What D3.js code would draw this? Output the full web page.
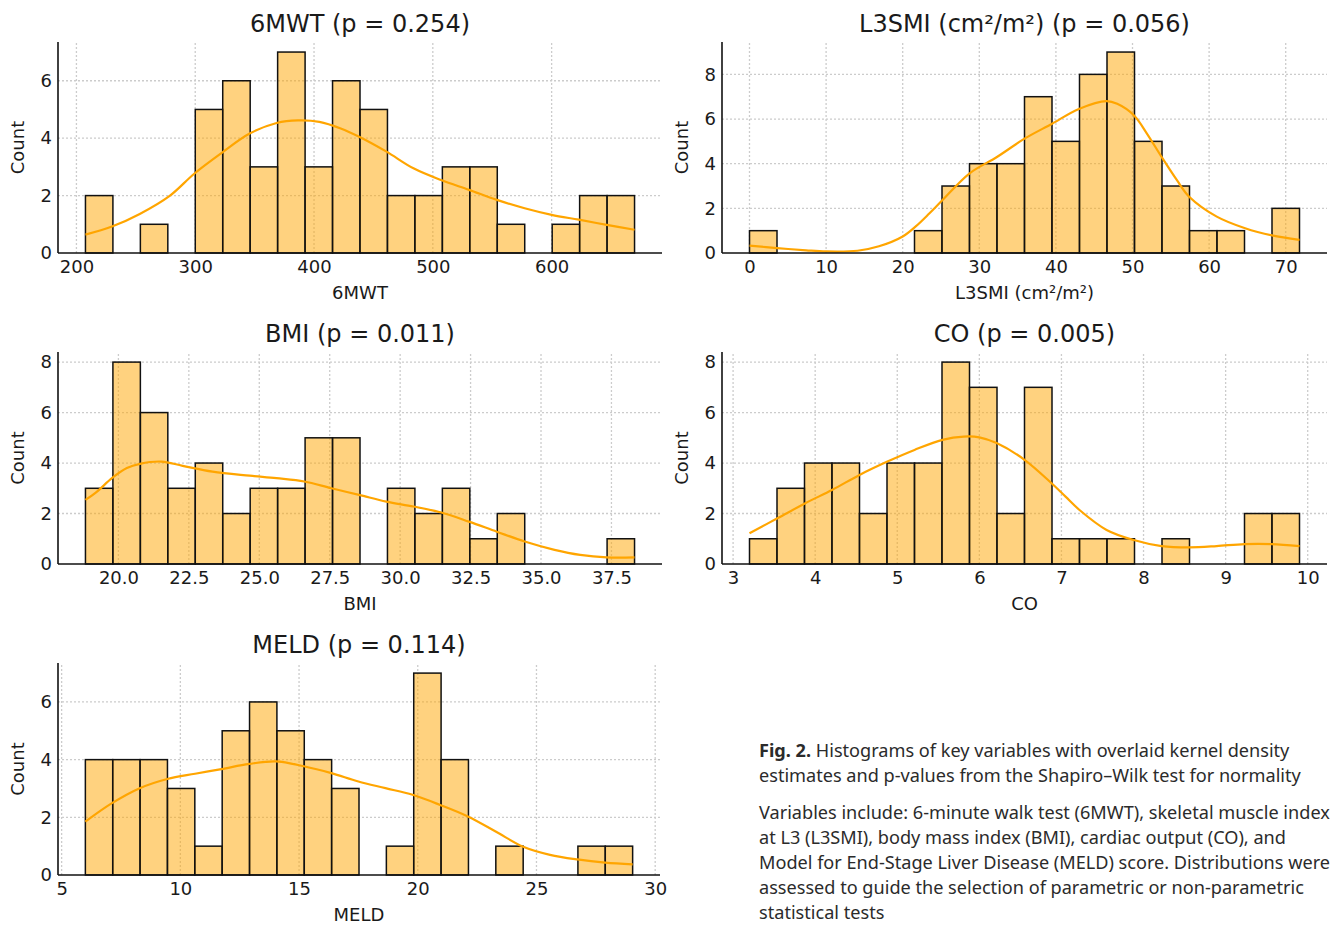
<!DOCTYPE html>
<html>
<head>
<meta charset="utf-8">
<script src="https://cdn.jsdelivr.net/npm/d3@7"></script>
<style>
  body { margin: 0; background: #fff; }
  svg text { font-family: "DejaVu Sans", sans-serif; fill: #1a1a1a; }
  .grid line { stroke: #cccccc; stroke-width: 1.3; stroke-dasharray: 2,2; }
  .axis text { font-size: 18px; }
  .caption text { font-family: "Noto Sans", sans-serif; font-size: 18px; fill: #2b2b2b; }
</style>
</head>
<body>
<svg id="chart" width="1331" height="926"></svg>
<script>
// ---- values ----
// 6MWT
var mwtCounts = [2,0,1,0,5,6,3,7,3,6,5,2,2,3,3,1,0,1,2,2];
var mwtRange = [207.6, 669.8];
var mwtKdeX = [207.6,229.9,253.3,278.5,299.4,322.4,345.8,368.5,386.5,404.5,422.5,438,461,483.7,507,530.5,553.9,577.3,600,623,646.4,669.8];
var mwtKdeY = [0.64,0.92,1.36,1.99,2.77,3.49,4.16,4.53,4.62,4.57,4.34,4.05,3.53,2.95,2.54,2.2,1.85,1.56,1.33,1.16,0.98,0.81];
var mwtXTicks = [200,300,400,500,600];
var mwtYTicks = [0,2,4,6];

// L3SMI
var smiCounts = [1,0,0,0,0,0,1,3,4,4,7,5,8,9,5,3,1,1,0,2];
var smiRange = [0, 71.8];
var smiKdeX = [0,3.6,7.4,10,14.1,16.9,20,21.7,23.5,25.2,28.7,32.3,35.9,39.5,43.0,46.6,48.0,50.2,51.9,53.8,55.8,57.4,61.0,64.7,68.2,71.8];
var smiKdeY = [0.33,0.22,0.12,0.07,0.1,0.3,0.74,1.19,1.78,2.37,3.56,4.3,5.12,5.79,6.45,6.8,6.68,6.16,5.34,4.3,3.26,2.52,1.63,1.11,0.79,0.59];
var smiXTicks = [0,10,20,30,40,50,60,70];
var smiYTicks = [0,2,4,6,8];

// BMI
var bmiCounts = [3,8,6,3,4,2,3,3,5,5,0,3,2,3,1,2,0,0,0,1];
var bmiRange = [18.83, 38.32];
var bmiKdeX = [18.83,19.24,19.77,20.3,20.76,21.52,22.28,23.34,24.66,25.61,26.6,27.56,28.54,29.51,30.47,31.46,32.44,33.43,34.42,35.48,36.39,37.33,38.32];
var bmiKdeY = [2.54,2.87,3.4,3.8,3.97,4.06,3.89,3.66,3.5,3.4,3.27,3.0,2.74,2.47,2.28,2.04,1.68,1.28,0.89,0.56,0.36,0.26,0.26];
var bmiXTicks = [20,22.5,25,27.5,30,32.5,35,37.5];
var bmiYTicks = [0,2,4,6,8];

// CO
var coCounts = [1,3,4,4,2,4,4,8,7,2,7,1,1,1,0,1,0,0,2,2];
var coRange = [3.20, 9.90];
var coKdeX = [3.20,3.54,3.88,4.21,4.54,4.88,5.21,5.55,5.81,6.0,6.21,6.55,6.88,7.05,7.22,7.55,7.88,8.22,8.56,8.89,9.23,9.56,9.90];
var coKdeY = [1.22,1.81,2.41,2.94,3.53,4.06,4.52,4.92,5.05,5.02,4.79,4.13,3.2,2.67,2.14,1.35,0.95,0.71,0.66,0.71,0.79,0.79,0.71];
var coXTicks = [3,4,5,6,7,8,9,10];
var coYTicks = [0,2,4,6,8];

// MELD
var meldCounts = [4,4,4,3,1,5,6,5,4,3,0,1,7,4,0,1,0,0,1,1];
var meldRange = [6.0, 29.05];
var meldKdeX = [6.0,7.12,8.29,9.45,10.62,11.73,12.9,14.03,15.2,16.36,17.5,18.64,19.78,20.94,22.11,23.28,24.44,25.57,26.72,27.89,29.05];
var meldKdeY = [1.85,2.49,3.01,3.33,3.51,3.67,3.85,3.94,3.77,3.53,3.24,3.01,2.78,2.43,2.03,1.51,0.98,0.7,0.54,0.43,0.37];
var meldXTicks = [5,10,15,20,25,30];
var meldYTicks = [0,2,4,6];

var captionLines = [
  ["Fig. 2.", " Histograms of key variables with overlaid kernel density"],
  ["", "estimates and p-values from the Shapiro\u2013Wilk test for normality"],
  ["", "Variables include: 6-minute walk test (6MWT), skeletal muscle index"],
  ["", "at L3 (L3SMI), body mass index (BMI), cardiac output (CO), and"],
  ["", "Model for End-Stage Liver Disease (MELD) score. Distributions were"],
  ["", "assessed to guide the selection of parametric or non-parametric"],
  ["", "statistical tests"]
];
var captionBaselines = [757, 782, 819, 844, 869, 894, 919];

var svg = d3.select("#chart");

function drawPanel(p) {
  var pad = 0.05 * (p.range[1] - p.range[0]);
  var x = d3.scaleLinear()
            .domain([p.range[0] - pad, p.range[1] + pad])
            .range([p.left, p.right]);
  var y = d3.scaleLinear()
            .domain([0, d3.max(p.counts) * 1.05])
            .range([p.bottom, p.top]);

  var g = svg.append("g");

  // dotted grid
  var grid = g.append("g").attr("class", "grid");
  grid.selectAll(".gx").data(p.xTicks).enter().append("line")
      .attr("x1", function(d) { return x(d); })
      .attr("x2", function(d) { return x(d); })
      .attr("y1", p.bottom).attr("y2", p.top);
  grid.selectAll(".gy").data(p.yTicks.slice(1)).enter().append("line")
      .attr("x1", p.left).attr("x2", p.right)
      .attr("y1", function(d) { return y(d); })
      .attr("y2", function(d) { return y(d); });

  // histogram bars (20 equal bins over the data range)
  var w = (p.range[1] - p.range[0]) / p.counts.length;
  var bins = p.counts.map(function(c, i) {
    return { x0: p.range[0] + i * w, x1: p.range[0] + (i + 1) * w, n: c };
  }).filter(function(b) { return b.n > 0; });

  g.selectAll(".bar").data(bins).enter().append("rect")
      .attr("class", "bar")
      .attr("x", function(d) { return x(d.x0); })
      .attr("width", function(d) { return x(d.x1) - x(d.x0); })
      .attr("y", function(d) { return y(d.n); })
      .attr("height", function(d) { return y(0) - y(d.n); })
      .attr("fill", "#FFA500")
      .attr("fill-opacity", 0.5)
      .attr("stroke", "#111")
      .attr("stroke-width", 1.5);

  // kde
  var kde = p.kdeX.map(function(v, i) { return [v, p.kdeY[i]]; });
  g.append("path")
    .datum(kde)
    .attr("fill", "none")
    .attr("stroke", "#FFA500")
    .attr("stroke-width", 2.2)
    .attr("d", d3.line()
                 .x(function(d) { return x(d[0]); })
                 .y(function(d) { return y(d[1]); })
                 .curve(d3.curveCatmullRom.alpha(0.5)));

  // axes
  g.append("g")
    .attr("class", "axis")
    .attr("transform", "translate(0," + p.bottom + ")")
    .call(d3.axisBottom(x).tickValues(p.xTicks).tickSize(0).tickPadding(7)
            .tickFormat(p.xFmt));
  g.append("g")
    .attr("class", "axis")
    .attr("transform", "translate(" + p.left + ",0)")
    .call(d3.axisLeft(y).tickValues(p.yTicks).tickSize(0).tickPadding(6));
  g.selectAll(".axis .domain").remove();

  // spines: left and bottom only
  g.append("line").attr("x1", p.left).attr("x2", p.right)
    .attr("y1", p.bottom).attr("y2", p.bottom)
    .attr("stroke", "#111").attr("stroke-width", 1.6);
  g.append("line").attr("x1", p.left).attr("x2", p.left)
    .attr("y1", p.bottom).attr("y2", p.top)
    .attr("stroke", "#111").attr("stroke-width", 1.6);

  // labels
  g.append("text")
    .attr("x", (p.left + p.right) / 2)
    .attr("y", p.top - 10)
    .attr("text-anchor", "middle")
    .style("font-size", "24px")
    .text(p.title);
  g.append("text")
    .attr("x", (p.left + p.right) / 2)
    .attr("y", p.bottom + 46)
    .attr("text-anchor", "middle")
    .style("font-size", "18px")
    .text(p.xLabel);
  g.append("text")
    .attr("transform", "translate(" + (p.left - 34) + "," + ((p.top + p.bottom) / 2) + ") rotate(-90)")
    .attr("text-anchor", "middle")
    .style("font-size", "18px")
    .text("Count");
}

var fmtInt = d3.format("d");
var fmt1 = d3.format(".1f");

drawPanel({ counts: mwtCounts, range: mwtRange, kdeX: mwtKdeX, kdeY: mwtKdeY, xTicks: mwtXTicks, yTicks: mwtYTicks,
            xFmt: fmtInt, title: "6MWT (p = 0.254)", xLabel: "6MWT", left: 58, right: 662, top: 42, bottom: 253 });
drawPanel({ counts: smiCounts, range: smiRange, kdeX: smiKdeX, kdeY: smiKdeY, xTicks: smiXTicks, yTicks: smiYTicks,
            xFmt: fmtInt, title: "L3SMI (cm\u00B2/m\u00B2) (p = 0.056)", xLabel: "L3SMI (cm\u00B2/m\u00B2)", left: 722, right: 1327, top: 42, bottom: 253 });
drawPanel({ counts: bmiCounts, range: bmiRange, kdeX: bmiKdeX, kdeY: bmiKdeY, xTicks: bmiXTicks, yTicks: bmiYTicks,
            xFmt: fmt1, title: "BMI (p = 0.011)", xLabel: "BMI", left: 58, right: 662, top: 352, bottom: 564 });
drawPanel({ counts: coCounts, range: coRange, kdeX: coKdeX, kdeY: coKdeY, xTicks: coXTicks, yTicks: coYTicks,
            xFmt: fmtInt, title: "CO (p = 0.005)", xLabel: "CO", left: 722, right: 1327, top: 352, bottom: 564 });
drawPanel({ counts: meldCounts, range: meldRange, kdeX: meldKdeX, kdeY: meldKdeY, xTicks: meldXTicks, yTicks: meldYTicks,
            xFmt: fmtInt, title: "MELD (p = 0.114)", xLabel: "MELD", left: 58, right: 660, top: 663, bottom: 875 });

// caption
var cap = svg.append("g").attr("class", "caption");
captionLines.forEach(function(l, i) {
  var t = cap.append("text").attr("x", 0).attr("y", captionBaselines[i]);
  if (l[0]) t.append("tspan").style("font-weight", "bold").text(l[0]);
  t.append("tspan").text(l[1]);
});
var firstWidth = cap.select("text").node().getComputedTextLength();
cap.attr("transform", "translate(759,0) scale(" + (531 / firstWidth) + ",1)");
</script>
</body>
</html>
